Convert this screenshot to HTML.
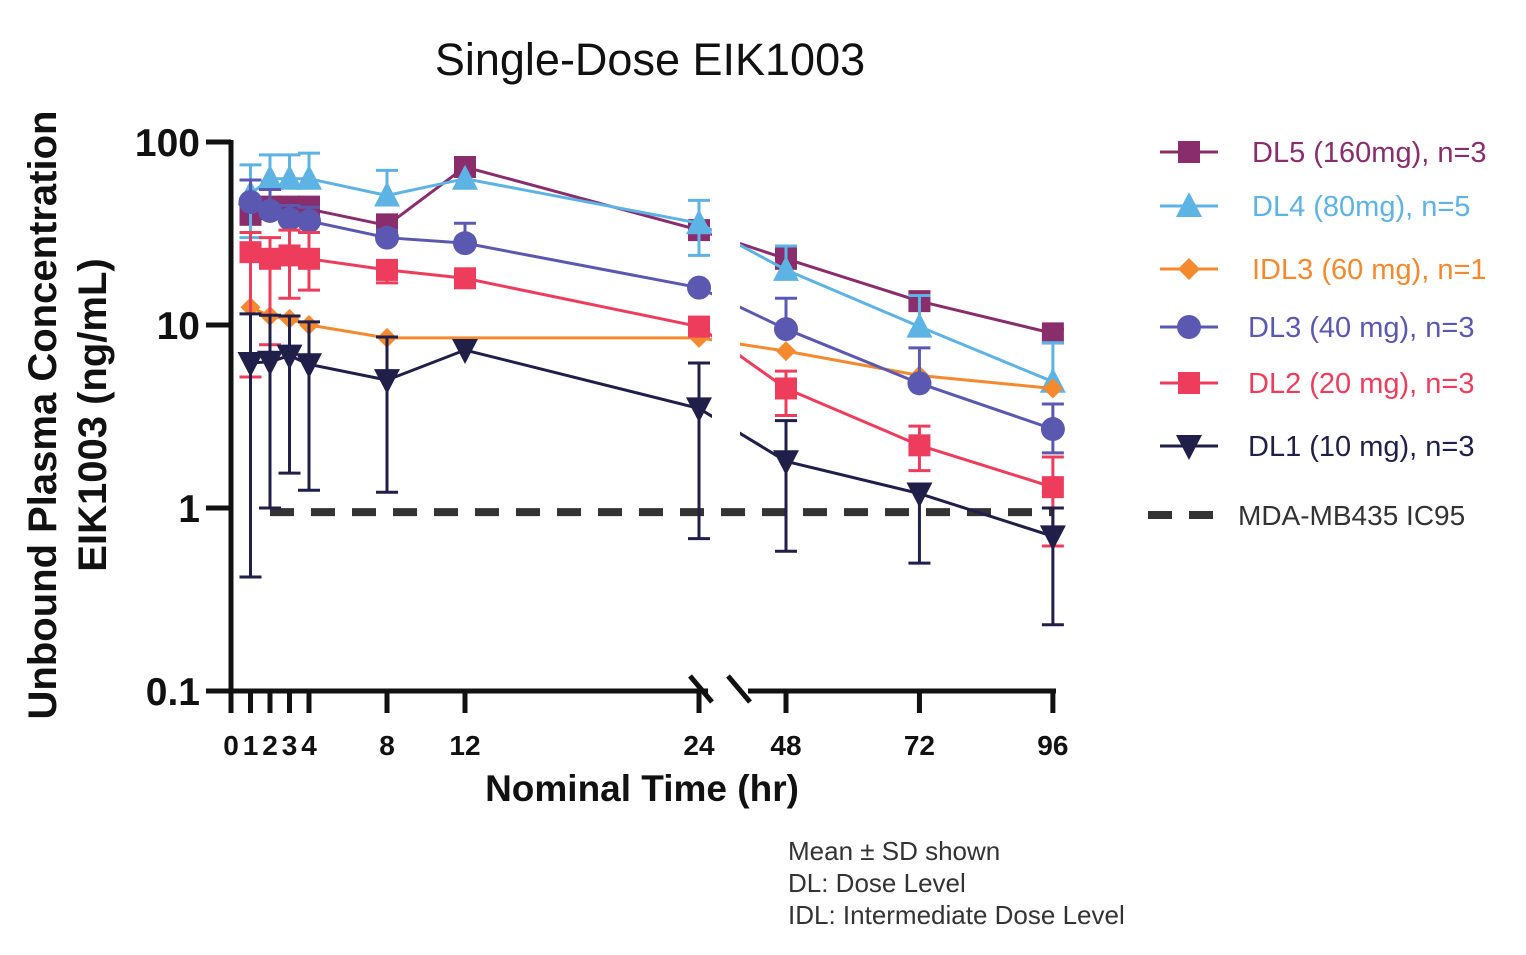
<!DOCTYPE html>
<html><head><meta charset="utf-8">
<style>
body{margin:0;background:#fff;}
svg{display:block;font-family:"Liberation Sans",Arial,sans-serif;}
</style></head>
<body>
<svg id="chart" width="1526" height="955" viewBox="0 0 1526 955" xmlns="http://www.w3.org/2000/svg">
<text x="650" y="75" font-size="45" text-anchor="middle" fill="#111">Single-Dose EIK1003</text>
<text transform="translate(56,415) rotate(-90)" font-size="40" font-weight="bold" text-anchor="middle" fill="#111">Unbound Plasma Concentration</text>
<text transform="translate(106,415) rotate(-90)" font-size="40" font-weight="bold" text-anchor="middle" fill="#111">EIK1003 (ng/mL)</text>
<text x="642" y="801" font-size="37" font-weight="bold" text-anchor="middle" fill="#111">Nominal Time (hr)</text>
<g id="axes"></g>
<g id="marks"></g>
<g id="legend"></g>
<g font-size="26" fill="#333">
<text x="788" y="860">Mean ± SD shown</text>
<text x="788" y="892">DL: Dose Level</text>
<text x="788" y="924">IDL: Intermediate Dose Level</text>
</g>
</svg>
<script>
const times=[1,2,3,4,8,12,24,48,72,96];
const xTickLabels=["0","1","2","3","4","8","12","24","48","72","96"];
const xTickValues=[0,1,2,3,4,8,12,24,48,72,96];
const yTickValues=[0.1,1,10,100];
const yTickLabels=["0.1","1","10","100"];
const seriesNames=["DL5 (160mg), n=3","DL4 (80mg), n=5","IDL3 (60 mg), n=1","DL3 (40 mg), n=3","DL2 (20 mg), n=3","DL1 (10 mg), n=3"];
const dl5=[40,43,43,43,35,73,33,23,13.5,9];
const dl4=[52,63,63,63,51,63,36,20,9.8,4.9];
const idl3=[12.5,11.2,10.8,10,8.5,8.5,8.5,7.2,5.3,4.5];
const dl3=[47,42,38,37,30,28,16,9.5,4.8,2.7];
const dl2=[25,23,24,23,20,18,9.8,4.5,2.2,1.3];
const dl1=[6.2,6.3,6.8,6.1,5,7.3,3.5,1.8,1.2,0.7];
const dl5Hi=[48,50,50,50,40,null,36,26,14.5,9.5];
const dl4Hi=[75,85,85,87,70,null,48,27,14.5,8];
const dl3Hi=[62,55,45,44,33,36,null,14,7.5,3.7];
const dl2Hi=[32,30,33,32,22,null,null,5.6,2.8,1.9];
const dl1Hi=[11.5,11.3,11.2,10.4,8.6,null,6.2,3,null,1.0];
const dl4Lo=[30,null,null,null,null,null,24,null,null,null];
const dl3Lo=[null,null,null,null,null,null,null,null,null,2.0];
const dl2Lo=[5.2,7.8,14,15.5,17,null,null,3.2,1.6,0.62];
const dl1Lo=[0.42,1.0,1.55,1.25,1.22,null,0.68,0.58,0.5,0.23];
const icLevel=0.95;

const NS="http://www.w3.org/2000/svg";
function X(t){return t<=24?231+t*19.5:786+(t-48)*5.56;}
function Y(v){return 508-Math.log10(v)*183;}
function mk(tag,attrs,parent){const e=document.createElementNS(NS,tag);for(const k in attrs)e.setAttribute(k,attrs[k]);parent.appendChild(e);return e;}
const axes=document.getElementById('axes'),marks=document.getElementById('marks'),legend=document.getElementById('legend');
let yl=mk('line',{x1:231,y1:Y(100)-2,x2:231,y2:Y(0.1)+2,stroke:'#111','stroke-width':5},axes);


yTickValues.forEach((v,i)=>{
 const t=mk('line',{x1:206,y1:Y(v),x2:231,y2:Y(v),stroke:'#111','stroke-width':5},axes);
 
 
 const l=mk('text',{x:200,y:Y(v)+14,'font-size':39,'font-weight':'bold','text-anchor':'end',fill:'#111'},axes);
 l.textContent=yTickLabels[i];
 
 
});
let xa=mk('line',{x1:229,y1:Y(0.1),x2:708,y2:Y(0.1),stroke:'#111','stroke-width':5},axes);


let xb=mk('line',{x1:748,y1:Y(0.1),x2:1056,y2:Y(0.1),stroke:'#111','stroke-width':5},axes);


[[690,712],[728,750]].forEach(p=>{const b=mk('line',{x1:p[0],y1:676,x2:p[1],y2:702,stroke:'#111','stroke-width':5},axes);
 
 });
xTickValues.forEach((v,i)=>{
 const t=mk('line',{x1:X(v),y1:Y(0.1),x2:X(v),y2:Y(0.1)+22,stroke:'#111','stroke-width':5},axes);
 
 
 const l=mk('text',{x:X(v),y:755,'font-size':28,'font-weight':'bold','text-anchor':'middle',fill:'#111'},axes);
 l.textContent=xTickLabels[i];
 
 
});
let ic=mk('line',{x1:X(2),y1:Y(icLevel),x2:X(96),y2:Y(icLevel),stroke:'#333','stroke-width':8,'stroke-dasharray':'24,17'},marks);


const defs=mk('defs',{},document.getElementById('chart'));
const cp=mk('clipPath',{id:'brk'},defs);
mk('rect',{x:0,y:0,width:712,height:955},cp);
mk('rect',{x:740,y:0,width:800,height:955},cp);
const series=[
 {v:dl5,hi:dl5Hi,lo:null,c:'#8a2d6c',s:'square',n:'dl5'},
 {v:dl4,hi:dl4Hi,lo:dl4Lo,c:'#5db3e4',s:'triangle',n:'dl4'},
 {v:idl3,hi:null,lo:null,c:'#f5892d',s:'diamond',n:'idl3'},
 {v:dl3,hi:dl3Hi,lo:dl3Lo,c:'#5a58b0',s:'circle',n:'dl3'},
 {v:dl2,hi:dl2Hi,lo:dl2Lo,c:'#ee3d5c',s:'square',n:'dl2'},
 {v:dl1,hi:dl1Hi,lo:dl1Lo,c:'#1f1f4a',s:'tri-down',n:'dl1'}
];
function marker(g,s,x,y,c,r){
 let e;
 if(s==='square')e=mk('rect',{x:x-r,y:y-r,width:2*r,height:2*r,fill:c},g);
 else if(s==='circle')e=mk('circle',{cx:x,cy:y,r:r+1,fill:c},g);
 else if(s==='triangle')e=mk('polygon',{points:`${x},${y-r-3} ${x-r-2},${y+r} ${x+r+2},${y+r}`,fill:c},g);
 else if(s==='tri-down')e=mk('polygon',{points:`${x},${y+r+3} ${x-r-2},${y-r} ${x+r+2},${y-r}`,fill:c},g);
 else e=mk('polygon',{points:`${x},${y-r} ${x+r},${y} ${x},${y+r} ${x-r},${y}`,fill:c},g);
 return e;}
series.forEach(S=>{
 const g=mk('g',{},marks);
 
 
 const pts=times.map((t,i)=>X(t)+','+Y(S.v[i])).join(' ');
 const pl=mk('polyline',{points:pts,fill:'none',stroke:S.c,'stroke-width':3,'clip-path':'url(#brk)'},g);
 
 
 times.forEach((t,i)=>{
  const x=X(t),y=Y(S.v[i]);
  [S.hi,S.lo].forEach(arr=>{ if(arr&&arr[i]!=null){
   const e=mk('line',{x1:x,y1:y,x2:x,y2:Y(arr[i]),stroke:S.c,'stroke-width':3},g);
   
   
   mk('line',{x1:x-11,y1:Y(arr[i]),x2:x+11,y2:Y(arr[i]),stroke:S.c,'stroke-width':3},g);
  }});
  if(S.n==='idl3'&&t===12)return;
  const m=marker(g,S.s,x,y,S.c,S.s==='diamond'?10:11);
  
  
 });
});
const legY=[152,206,269,327,383,446];
seriesNames.forEach((nm,i)=>{
 const S=series[i];const g=mk('g',{},legend);
 
 
 mk('line',{x1:1160,y1:legY[i],x2:1218,y2:legY[i],stroke:S.c,'stroke-width':3},g);
 marker(g,S.s,1189,legY[i],S.c,11);
 const t=mk('text',{x:i<3?1252:1248,y:legY[i]+10,'font-size':29,fill:S.c},g);
 t.textContent=nm;
});
const gi=mk('g',{},legend);


mk('line',{x1:1148,y1:515,x2:1218,y2:515,stroke:'#333','stroke-width':8,'stroke-dasharray':'24,17'},gi);
const ti=mk('text',{x:1238,y:525,'font-size':28,fill:'#333'},gi);ti.textContent='MDA-MB435 IC95';
</script>
</body></html>
